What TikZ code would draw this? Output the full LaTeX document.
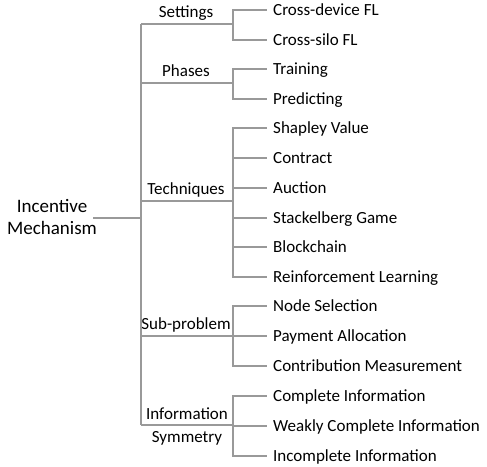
\documentclass[tikz,border=0pt]{standalone}
\usepackage{fontspec}
\setmainfont{Carlito}

\begin{document}
\begin{tikzpicture}[x=1pt,y=-1pt,
    conn/.style={draw=black!40,line width=1.1pt},
    catlabel/.style={anchor=base,inner sep=0pt,font=\fontsize{17}{23}\selectfont},
    leaf/.style={anchor=base west,inner sep=0pt,font=\fontsize{17}{23}\selectfont}]
    \useasboundingbox (0,0) rectangle (487,466);
    % root
    \node[anchor=base,align=center,inner sep=0pt,font=\fontsize{19}{22.5}\selectfont] (root) at (52,234.5) {Incentive\\Mechanism};
    \coordinate (rootend) at (93,218);
    \coordinate (trunk) at (141,218);
    \draw[conn] (rootend) -- (trunk);
    % categories
    \foreach \name/\y/\txt in {set/24/Settings,pha/83/Phases,tec/201/Techniques,sub/336/Sub-problem} {
        \coordinate (t-\name) at (141,\y);
        \coordinate (j-\name) at (233,\y);
        \node[catlabel] (c-\name) at (186,\y-7) {\txt};
        \draw[conn] (t-\name) -- (j-\name);
    }
    \coordinate (t-inf) at (141,425);
    \coordinate (j-inf) at (233,425);
    \node[catlabel,align=center] (c-inf) at (187,442) {Information\\Symmetry};
    \draw[conn] (t-inf) -- (j-inf);
    \draw[conn] (t-set) -- (t-inf);
    % leaves
    \foreach \name/\y/\txt [count=\i] in {set/10/Cross-device FL,set/40/Cross-silo FL,
        pha/69/Training,pha/99/Predicting,
        tec/128/Shapley Value,tec/158/Contract,tec/188/Auction,tec/218/Stackelberg Game,tec/247/Blockchain,tec/277/Reinforcement Learning,
        sub/306/Node Selection,sub/336/Payment Allocation,sub/366/Contribution Measurement,
        inf/396/Complete Information,inf/426/Weakly Complete Information,inf/456/Incomplete Information} {
        \coordinate (e\i) at (267,\y);
        \node[leaf] (l\i) at (273,\y+5.5) {\txt};
        \draw[conn] (j-\name) |- (e\i);
    }
\end{tikzpicture}
\end{document}
